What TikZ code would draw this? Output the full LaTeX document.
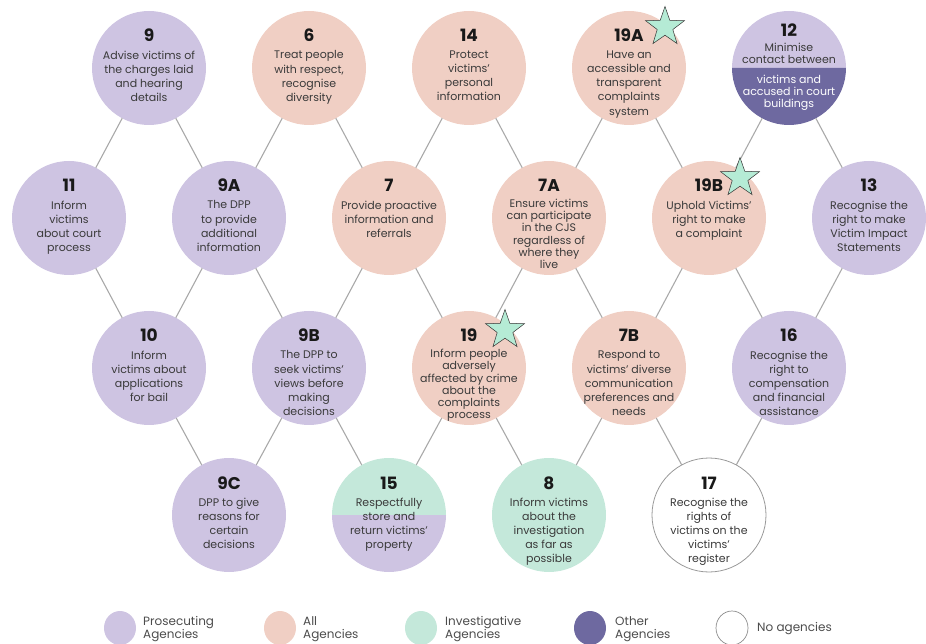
\documentclass[tikz,border=0pt]{standalone}
\usepackage{fontspec}
\setmainfont{Poppins}
\usetikzlibrary{shapes.geometric}
\definecolor{prosec}{HTML}{CEC4E2}
\definecolor{allag}{HTML}{F0CFC4}
\definecolor{invest}{HTML}{C4E8DA}
\definecolor{otherag}{HTML}{6E69A0}
\definecolor{linkgrey}{HTML}{A9A9A9}
\definecolor{ink}{HTML}{3A3A3A}
\definecolor{starfill}{HTML}{B5EBD5}

\begin{document}
\begin{tikzpicture}[x=1pt, y=1pt,
	goal/.style={circle, minimum size=114pt, inner sep=0pt, outer sep=0pt},
	link/.style={draw=linkgrey, line width=1.1pt},
	num/.style={font=\fontsize{17}{17}\selectfont\bfseries, text=black!90, inner sep=0pt, anchor=base},
	txt/.style={font=\fontsize{11}{14.2}\selectfont, text=ink, align=center, inner sep=0pt, anchor=north},
	tight/.style={font=\fontsize{11}{12.2}\selectfont},
	flag/.style={star, star points=5, star point ratio=2.5, minimum size=41pt, inner sep=0pt, fill=starfill, draw=black!80, line width=0.5pt},
	key/.style={ellipse, minimum width=32pt, minimum height=34pt, inner sep=0pt},
	keytxt/.style={font=\fontsize{12}{13}\selectfont, text=black!70, align=left, anchor=west, inner sep=0pt}]
	\useasboundingbox (0,0) rectangle (926,643);

	\node[goal, fill=prosec] (g9) at (149,575) {};
	\node[goal, fill=allag] (g6) at (309,575) {};
	\node[goal, fill=allag] (g14) at (469,575) {};
	\node[goal, fill=allag] (g19a) at (629,575) {};
	\node[goal] (g12) at (789,575) {};
	\node[goal, fill=prosec] (g11) at (69,425) {};
	\node[goal, fill=prosec] (g9a) at (229,425) {};
	\node[goal, fill=allag] (g7) at (389,425) {};
	\node[goal, fill=allag] (g7a) at (549,425) {};
	\node[goal, fill=allag] (g19b) at (709,425) {};
	\node[goal, fill=prosec] (g13) at (869,425) {};
	\node[goal, fill=prosec] (g10) at (149,275) {};
	\node[goal, fill=prosec] (g9b) at (309,275) {};
	\node[goal, fill=allag] (g19) at (469,275) {};
	\node[goal, fill=allag] (g7b) at (629,275) {};
	\node[goal, fill=prosec] (g16) at (789,275) {};
	\node[goal, fill=prosec] (g9c) at (229,128) {};
	\node[goal] (g15) at (389,128) {};
	\node[goal, fill=invest] (g8) at (549,128) {};
	\node[goal, draw=black!40, line width=0.8pt] (g17) at (709,128) {};

	\fill[prosec] (g12.east) arc[start angle=0, end angle=180, radius=57pt] -- cycle;
	\fill[otherag] (g12.west) arc[start angle=180, end angle=360, radius=57pt] -- cycle;
	\fill[invest] (g15.east) arc[start angle=0, end angle=180, radius=57pt] -- cycle;
	\fill[prosec] (g15.west) arc[start angle=180, end angle=360, radius=57pt] -- cycle;

	\draw[link] (g9) -- (g11);
	\draw[link] (g9) -- (g9a);
	\draw[link] (g6) -- (g9a);
	\draw[link] (g6) -- (g7);
	\draw[link] (g14) -- (g7);
	\draw[link] (g14) -- (g7a);
	\draw[link] (g19a) -- (g7a);
	\draw[link] (g19a) -- (g19b);
	\draw[link] (g12) -- (g19b);
	\draw[link] (g12) -- (g13);
	\draw[link] (g11) -- (g10);
	\draw[link] (g9a) -- (g10);
	\draw[link] (g9a) -- (g9b);
	\draw[link] (g7) -- (g9b);
	\draw[link] (g7) -- (g19);
	\draw[link] (g7a) -- (g19);
	\draw[link] (g7a) -- (g7b);
	\draw[link] (g19b) -- (g7b);
	\draw[link] (g19b) -- (g16);
	\draw[link] (g13) -- (g16);
	\draw[link] (g10) -- (g9c);
	\draw[link] (g9b) -- (g9c);
	\draw[link] (g9b) -- (g15);
	\draw[link] (g19) -- (g15);
	\draw[link] (g19) -- (g8);
	\draw[link] (g7b) -- (g8);
	\draw[link] (g7b) -- (g17);
	\draw[link] (g16) -- (g17);

	\node[num] (g9n) at ([yshift=26pt]g9.center) {9};
	\node[txt] (g9t) at ([yshift=17.5pt]g9.center) {Advise victims of\\the charges laid\\and hearing\\details};
	\node[num] (g6n) at ([yshift=26pt]g6.center) {6};
	\node[txt] (g6t) at ([yshift=17.5pt]g6.center) {Treat people\\with respect,\\recognise\\diversity};
	\node[num] (g14n) at ([yshift=26pt]g14.center) {14};
	\node[txt] (g14t) at ([yshift=17.5pt]g14.center) {Protect\\victims'\\personal\\information};
	\node[num] (g19an) at ([yshift=26pt]g19a.center) {19A};
	\node[txt] (g19at) at ([yshift=17.5pt]g19a.center) {Have an\\accessible and\\transparent\\complaints\\system};
	\node[num] (g12n) at ([yshift=31pt]g12.center) {12};
	\node[txt, tight] (g12t) at ([yshift=25pt]g12.center) {Minimise\\contact between};
	\node[txt, tight, text=white] (g12u) at ([yshift=-7pt]g12.center) {victims and\\accused in court\\buildings};

	\node[num] (g11n) at ([yshift=26pt]g11.center) {11};
	\node[txt] (g11t) at ([yshift=17.5pt]g11.center) {Inform\\victims\\about court\\process};
	\node[num] (g9an) at ([yshift=26pt]g9a.center) {9A};
	\node[txt] (g9at) at ([yshift=17.5pt]g9a.center) {The DPP\\to provide\\additional\\information};
	\node[num] (g7n) at ([yshift=26pt]g7.center) {7};
	\node[txt] (g7t) at ([yshift=17.5pt]g7.center) {Provide proactive\\information and\\referrals};
	\node[num] (g7an) at ([yshift=26pt]g7a.center) {7A};
	\node[txt, tight] (g7at) at ([yshift=19pt]g7a.center) {Ensure victims\\can participate\\in the CJS\\regardless of\\where they\\live};
	\node[num] (g19bn) at ([yshift=26pt]g19b.center) {19B};
	\node[txt] (g19bt) at ([yshift=17.5pt]g19b.center) {Uphold Victims'\\right to make\\a complaint};
	\node[num] (g13n) at ([yshift=26pt]g13.center) {13};
	\node[txt] (g13t) at ([yshift=17.5pt]g13.center) {Recognise the\\right to make\\Victim Impact\\Statements};

	\node[num] (g10n) at ([yshift=26pt]g10.center) {10};
	\node[txt] (g10t) at ([yshift=17.5pt]g10.center) {Inform\\victims about\\applications\\for bail};
	\node[num] (g9bn) at ([yshift=26pt]g9b.center) {9B};
	\node[txt] (g9bt) at ([yshift=17.5pt]g9b.center) {The DPP to\\seek victims'\\views before\\making\\decisions};
	\node[num] (g19n) at ([yshift=26pt]g19.center) {19};
	\node[txt, tight] (g19t) at ([yshift=19pt]g19.center) {Inform people\\adversely\\affected by crime\\about the\\complaints\\process};
	\node[num] (g7bn) at ([yshift=26pt]g7b.center) {7B};
	\node[txt] (g7bt) at ([yshift=17.5pt]g7b.center) {Respond to\\victims' diverse\\communication\\preferences and\\needs};
	\node[num] (g16n) at ([yshift=26pt]g16.center) {16};
	\node[txt] (g16t) at ([yshift=17.5pt]g16.center) {Recognise the\\right to\\compensation\\and financial\\assistance};

	\node[num] (g9cn) at ([yshift=26pt]g9c.center) {9C};
	\node[txt] (g9ct) at ([yshift=17.5pt]g9c.center) {DPP to give\\reasons for\\certain\\decisions};
	\node[num] (g15n) at ([yshift=26pt]g15.center) {15};
	\node[txt] (g15t) at ([yshift=17.5pt]g15.center) {Respectfully\\store and\\return victims'\\property};
	\node[num] (g8n) at ([yshift=26pt]g8.center) {8};
	\node[txt] (g8t) at ([yshift=17.5pt]g8.center) {Inform victims\\about the\\investigation\\as far as\\possible};
	\node[num] (g17n) at ([yshift=26pt]g17.center) {17};
	\node[txt] (g17t) at ([yshift=17.5pt]g17.center) {Recognise the\\rights of\\victims on the\\victims'\\register};

	\node[flag] (s19a) at (665,616) {};
	\node[flag] (s19b) at (740,465) {};
	\node[flag] (s19) at (505,313) {};

	\node[key, fill=prosec] (k1) at (120,15) {};
	\node[keytxt] (k1t) at (143,14) {Prosecuting\\Agencies};
	\node[key, fill=allag] (k2) at (280,15) {};
	\node[keytxt] (k2t) at (303,14) {All\\Agencies};
	\node[key, fill=invest] (k3) at (421,15) {};
	\node[keytxt] (k3t) at (445,14) {Investigative\\Agencies};
	\node[key, fill=otherag] (k4) at (590,15) {};
	\node[keytxt] (k4t) at (615,14) {Other\\Agencies};
	\node[key, draw=black!45, line width=0.7pt] (k5) at (732,15) {};
	\node[keytxt] (k5t) at (757,14) {No agencies};
\end{tikzpicture}
\end{document}
